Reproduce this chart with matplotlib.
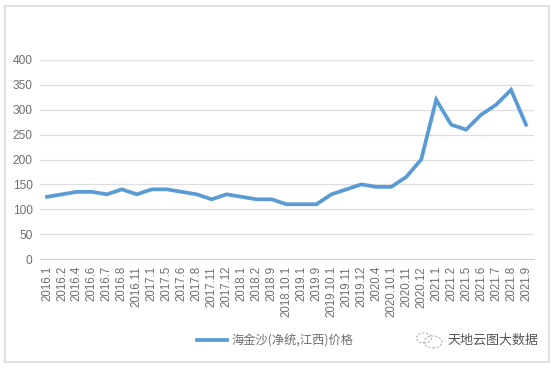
import matplotlib
matplotlib.use("Agg")
import matplotlib.pyplot as plt
from matplotlib.patches import Rectangle, Circle

months = ["2016.1","2016.2","2016.4","2016.6","2016.7","2016.8","2016.11","2017.1","2017.5","2017.6","2017.8",
          "2017.11","2017.12","2018.1","2018.2","2018.9","2018.10.1","2019.1","2019.9","2019.10.1","2019.11",
          "2019.12","2020.4","2020.10.1","2020.11","2020.12","2021.1","2021.2","2021.5","2021.6","2021.7","2021.8","2021.9"]
prices = [125,130,135,135,130,140,130,140,140,135,130,120,130,125,120,120,110,110,110,130,140,150,145,145,165,200,
          320,270,260,290,310,340,270]
yticks = [0,50,100,150,200,250,300,350,400]
series_name = "海金沙(净统,江西)价格"
watermark = "天地云图大数据"

plt.rcParams['font.family'] = ['Noto Sans CJK SC', 'DejaVu Sans']
W, H = 553, 368
fig = plt.figure(figsize=(W/100, H/100), dpi=100, facecolor="white")
fig.add_artist(Rectangle((4.5/W, 1-361.5/H), 544/W, 356/H, transform=fig.transFigure,
                         fill=False, ec="#dcdcdc", lw=1.2))
ax = fig.add_axes([39.5/W, 1-259/H, 494/W, 199/H])
x = range(len(months))
ax.plot(x, prices, color="#5b9bd5", lw=2.7, solid_joinstyle="miter", label=series_name, clip_on=False)
ax.set_xlim(-0.5, len(months)-0.5)
ax.set_ylim(0, 400)
ax.set_yticks(yticks)
ax.set_xticks(list(x))
ax.set_xticklabels(months, rotation=90, fontfamily="Liberation Sans", fontsize=8.3, color="#6e6e6e")
ax.tick_params(axis="x", length=0, pad=5)
ax.tick_params(axis="y", length=0, pad=5, labelsize=8.6, labelcolor="#6e6e6e")
for lbl in ax.get_yticklabels():
    lbl.set_fontfamily("Liberation Sans")
ax.grid(axis="y", color="#dedede", lw=0.9)
ax.set_axisbelow(True)
for s in ax.spines.values():
    s.set_visible(False)
ax.spines["bottom"].set_visible(True)
ax.spines["bottom"].set_color("#d4d4d4")

leg = ax.legend(loc="center", bbox_to_anchor=((275-39.5)/494, (259-341)/199), frameon=False, fontsize=8.8,
                handlelength=2.45, handletextpad=0.4, labelcolor="#6e6e6e")
fig.text(447/W, 1-340/H, watermark, fontsize=9.4, color="#555555", va="center", ha="left")
for cx, cy, r in [(424, 338, 5), (433, 342, 6)]:
    fig.add_artist(Circle((cx/W, 1-cy/H), r/H, transform=fig.transFigure, fill=False, ec="#b5b5b5",
                          lw=0.8, ls=(0, (2, 1.5))))
fig.savefig("out.png", dpi=100)
